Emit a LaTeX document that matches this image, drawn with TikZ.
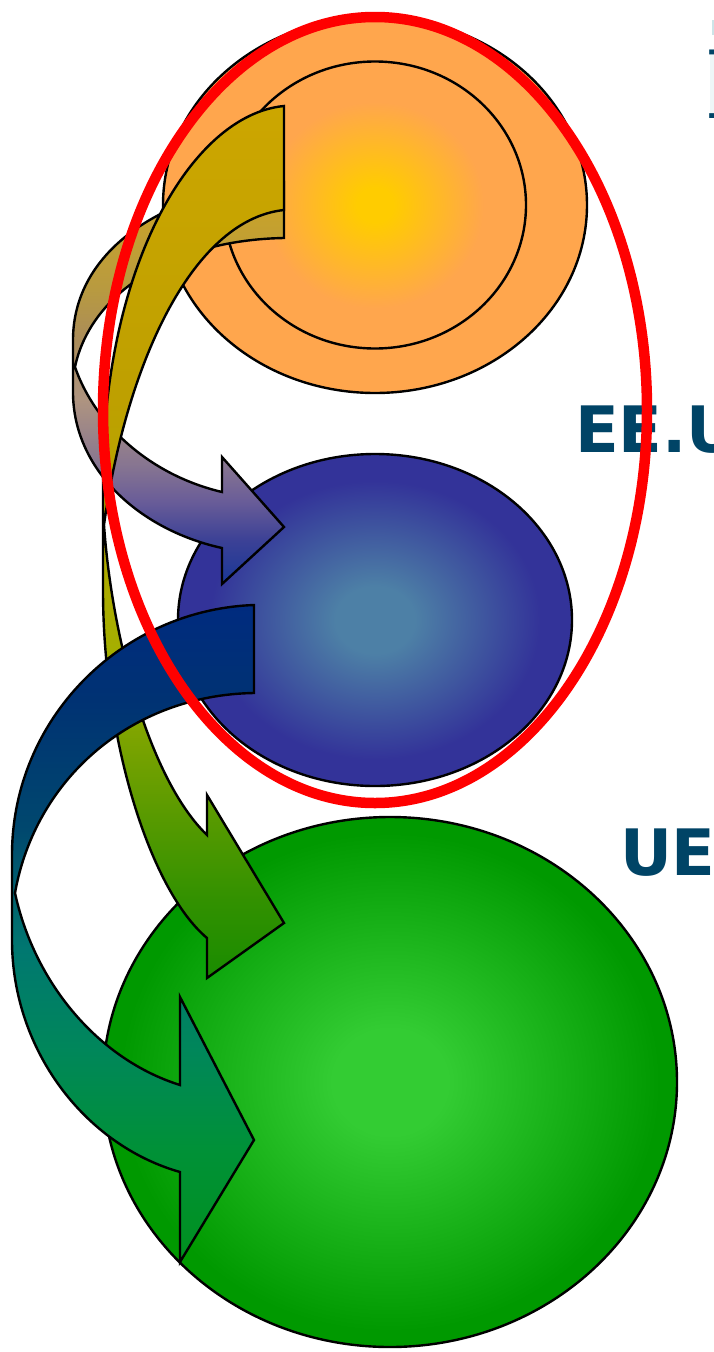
\documentclass[tikz,border=0pt]{standalone}
\usepackage{fontspec}
\setmainfont{DejaVu Sans}
\newfontfamily\serifpart{DejaVu Serif}
\definecolor{labelblue}{HTML}{004466}
\definecolor{discorange}{RGB}{255,166,77}
\definecolor{palestem}{RGB}{238,246,247}
\definecolor{palecap}{RGB}{205,228,232}
\pgfdeclareverticalshading{arrowA}{100bp}{
  rgb(0bp)=(.098,.216,.588);rgb(25bp)=(.098,.216,.588);
  rgb(30.5bp)=(.235,.255,.588);rgb(35.4bp)=(.416,.365,.596);
  rgb(39.8bp)=(.529,.459,.569);rgb(47.9bp)=(.682,.58,.502);
  rgb(55.3bp)=(.667,.549,.353);rgb(61.6bp)=(.722,.604,.251);
  rgb(75bp)=(.804,.647,.137);rgb(100bp)=(.804,.647,.137)}
\pgfdeclareverticalshading{arrowB}{100bp}{
  rgb(0bp)=(.098,.549,0);rgb(25bp)=(.098,.549,0);
  rgb(29.5bp)=(.196,.569,0);rgb(36.4bp)=(.412,.62,0);
  rgb(43.8bp)=(.647,.686,0);rgb(58.1bp)=(.745,.627,0);
  rgb(75bp)=(.8,.651,0);rgb(100bp)=(.8,.651,0)}
\pgfdeclareverticalshading{arrowC}{100bp}{
  rgb(0bp)=(0,.569,.118);rgb(25bp)=(0,.569,.118);
  rgb(33.5bp)=(0,.569,.216);rgb(41.1bp)=(0,.529,.353);
  rgb(48.7bp)=(0,.471,.439);rgb(57.9bp)=(0,.282,.431);
  rgb(67.8bp)=(0,.196,.451);rgb(75bp)=(0,.169,.498);rgb(100bp)=(0,.169,.498)}
\pgfdeclareradialshading{discgold}{\pgfpoint{0bp}{0bp}}{
  rgb(0bp)=(1,.8,0);rgb(3bp)=(1,.8,0);rgb(18bp)=(1,.651,.302);rgb(50bp)=(1,.651,.302)}
\pgfdeclareradialshading{discblue}{\pgfpoint{0bp}{0bp}}{
  rgb(0bp)=(.302,.502,.651);rgb(5bp)=(.302,.502,.651);rgb(21bp)=(.2,.2,.6);rgb(50bp)=(.2,.2,.6)}
\pgfdeclareradialshading{discgreen}{\pgfpoint{0bp}{0bp}}{
  rgb(0bp)=(.2,.8,.2);rgb(5bp)=(.2,.8,.2);rgb(23.5bp)=(0,.6,0);rgb(50bp)=(0,.6,0)}
\tikzset{
  outline/.style={draw=black,line width=2.4pt,line join=miter},
  biglabel/.style={text=labelblue,font=\bfseries\fontsize{64}{64}\selectfont,anchor=base west,inner sep=0pt,outer sep=0pt}
}
\begin{document}
\begin{tikzpicture}[x=1pt,y=-1pt]
\useasboundingbox (0,0) rectangle (714,1352);
\clip (0,0) rectangle (714,1352);
\fill[white] (0,0) rectangle (714,1352);
\node[biglabel] (eeu) at (575,452) {EE.U};
\node[biglabel] (ue) at (620,875) {UE};
% clipped letter at the top right
\fill[palestem] (710,50) rectangle (714,116);
\fill[palecap] (712,20) rectangle (714,35);
\node[anchor=base west,inner sep=0pt,text=labelblue,font=\serifpart\fontsize{94}{94}\selectfont] (corner) at (704,118) {I};
% discs
\path[outline,fill=discorange] (375,205) ellipse [x radius=212,y radius=188];
\shade[outline,shading=discgold] (375,205) ellipse [x radius=151,y radius=143.5];
\shade[outline,shading=discblue] (375,620) ellipse [x radius=197,y radius=166];
\shade[outline,shading=discgreen] (390,1082) ellipse [x radius=287,y radius=265];
% arrow A
\shade[outline,shading=arrowA]
  (284,182) .. controls (165,190) and (73,250) .. (73,340) -- (73,392)
  .. controls (73,470) and (140,530) .. (222,548) -- (222,584) -- (284,527) -- (222,457) -- (222,492)
  .. controls (150,475) and (95,425) .. (75,367)
  .. controls (90,295) and (170,240) .. (284,238) -- cycle;
% arrow B
\shade[outline,shading=arrowB]
  (284,106) .. controls (190,115) and (103,270) .. (103,480) -- (103,590)
  .. controls (103,740) and (150,890) .. (207,938) -- (207,978) -- (284,923) -- (207,795) -- (207,835)
  .. controls (150,780) and (112,640) .. (104,525)
  .. controls (125,370) and (190,220) .. (284,210) -- cycle;
% arrow C
\shade[outline,shading=arrowC]
  (254,605) .. controls (120,610) and (12,720) .. (12,855) -- (12,940)
  .. controls (12,1050) and (85,1145) .. (180,1172) -- (180,1262) -- (254,1140) -- (180,997) -- (180,1085)
  .. controls (100,1060) and (35,985) .. (15,893)
  .. controls (35,780) and (130,695) .. (254,693) -- cycle;
% red ring
\draw[red,line width=10.5pt] (375,410) ellipse [x radius=272,y radius=393];
\end{tikzpicture}
\end{document}
